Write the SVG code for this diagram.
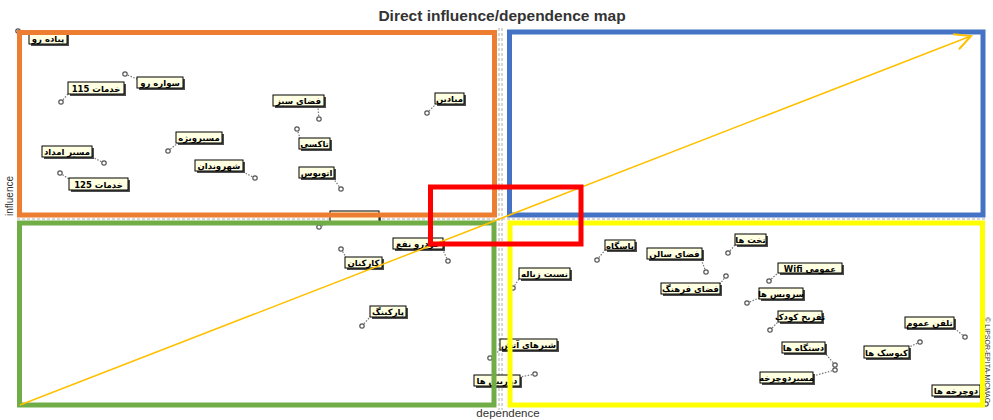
<svg xmlns="http://www.w3.org/2000/svg" width="993" height="420" viewBox="0 0 993 420">
<style>
.bg{fill:#fff}
.sh{fill:#4d4d4d}
.bx{fill:#ffffe1;stroke:#000;stroke-width:1}
.lt{font-family:"DejaVu Sans",sans-serif;font-size:8.5px;font-weight:bold;fill:#000;text-anchor:middle}
.ld{stroke:#777;stroke-width:1.2;stroke-dasharray:1.5 1.5;fill:none}
.pt{fill:#fff;stroke:#555;stroke-width:1.2}
.ax{stroke:#999;stroke-width:0.8;stroke-dasharray:3 2;fill:none}
.q{fill:none;stroke-width:5}
.cap{font-family:"Liberation Sans",Arial,sans-serif;fill:#333}
</style>
<defs>
<marker id="ah" viewBox="0 0 20 20" refX="18" refY="10" markerWidth="20" markerHeight="20" markerUnits="userSpaceOnUse" orient="auto">
<path d="M2,2 L18,10 L2,18" fill="none" stroke="#FFC000" stroke-width="2"/>
</marker>
</defs>
<rect class="bg" x="0" y="0" width="993" height="420"/>
<text class="cap" x="502" y="21" font-size="15.5" font-weight="bold" text-anchor="middle" fill="#222">Direct influence/dependence map</text>
<text class="cap" x="508" y="417" font-size="11.5" text-anchor="middle">dependence</text>
<text class="cap" transform="translate(13,196) rotate(-90)" font-size="10" text-anchor="middle">influence</text>
<text class="cap" transform="translate(985,360) rotate(90)" font-size="7" text-anchor="middle" fill="#666">© LIPSOR-EPITA-MICMAC</text>

<g id="axes">
<line class="ax" x1="499" y1="28" x2="499" y2="410"/>
<line class="ax" x1="502" y1="28" x2="502" y2="410"/>
<line class="ax" x1="17" y1="219" x2="986" y2="219"/>
</g>

<g id="connectors">
<line class="ld" x1="18" y1="31" x2="29" y2="34"/>
<line class="ld" x1="125" y1="74" x2="137" y2="79"/>
<line class="ld" x1="61" y1="102" x2="68" y2="94"/>
<line class="ld" x1="168" y1="151" x2="178" y2="143"/>
<line class="ld" x1="104" y1="163" x2="92" y2="157"/>
<line class="ld" x1="60" y1="173" x2="69" y2="179"/>
<line class="ld" x1="255" y1="178" x2="243" y2="172"/>
<line class="ld" x1="319" y1="119" x2="318" y2="107"/>
<line class="ld" x1="297" y1="129" x2="300" y2="138"/>
<line class="ld" x1="341" y1="189" x2="333" y2="178"/>
<line class="ld" x1="427" y1="113" x2="435" y2="105"/>
<line class="ld" x1="319" y1="227" x2="330" y2="223"/>
<line class="ld" x1="448" y1="261" x2="443" y2="250"/>
<line class="ld" x1="341" y1="249" x2="346" y2="257"/>
<line class="ld" x1="362" y1="326" x2="370" y2="317"/>
<line class="ld" x1="513" y1="288" x2="519" y2="279"/>
<line class="ld" x1="490" y1="358" x2="500" y2="350"/>
<line class="ld" x1="535" y1="374" x2="520" y2="377"/>
<line class="ld" x1="597" y1="260" x2="605" y2="250"/>
<line class="ld" x1="706" y1="272" x2="701" y2="259"/>
<line class="ld" x1="728" y1="253" x2="735" y2="245"/>
<line class="ld" x1="769" y1="281" x2="778" y2="273"/>
<line class="ld" x1="726" y1="276" x2="720" y2="284"/>
<line class="ld" x1="747" y1="303" x2="759" y2="298"/>
<line class="ld" x1="770" y1="330" x2="778" y2="322"/>
<line class="ld" x1="835" y1="365" x2="825" y2="353"/>
<line class="ld" x1="835" y1="370" x2="813" y2="376"/>
<line class="ld" x1="965" y1="337" x2="954" y2="328"/>
<line class="ld" x1="920" y1="342" x2="909" y2="347"/>
<line class="ld" x1="986" y1="404" x2="980" y2="396"/>
</g>

<g id="points">
<circle class="pt" cx="18" cy="31" r="2.2"/>
<circle class="pt" cx="125" cy="74" r="2.2"/>
<circle class="pt" cx="61" cy="102" r="2.2"/>
<circle class="pt" cx="168" cy="151" r="2.2"/>
<circle class="pt" cx="104" cy="163" r="2.2"/>
<circle class="pt" cx="60" cy="173" r="2.2"/>
<circle class="pt" cx="255" cy="178" r="2.2"/>
<circle class="pt" cx="319" cy="119" r="2.2"/>
<circle class="pt" cx="297" cy="129" r="2.2"/>
<circle class="pt" cx="341" cy="189" r="2.2"/>
<circle class="pt" cx="427" cy="113" r="2.2"/>
<circle class="pt" cx="319" cy="227" r="2.2"/>
<circle class="pt" cx="448" cy="261" r="2.2"/>
<circle class="pt" cx="341" cy="249" r="2.2"/>
<circle class="pt" cx="362" cy="326" r="2.2"/>
<circle class="pt" cx="513" cy="288" r="2.2"/>
<circle class="pt" cx="490" cy="358" r="2.2"/>
<circle class="pt" cx="535" cy="374" r="2.2"/>
<circle class="pt" cx="597" cy="260" r="2.2"/>
<circle class="pt" cx="706" cy="272" r="2.2"/>
<circle class="pt" cx="728" cy="253" r="2.2"/>
<circle class="pt" cx="769" cy="281" r="2.2"/>
<circle class="pt" cx="726" cy="276" r="2.2"/>
<circle class="pt" cx="747" cy="303" r="2.2"/>
<circle class="pt" cx="770" cy="330" r="2.2"/>
<circle class="pt" cx="835" cy="365" r="2.2"/>
<circle class="pt" cx="835" cy="370" r="2.2"/>
<circle class="pt" cx="965" cy="337" r="2.2"/>
<circle class="pt" cx="920" cy="342" r="2.2"/>
<circle class="pt" cx="986" cy="404" r="2.2"/>
</g>

<g id="n1"><rect class="sh" x="31" y="35" width="38" height="11"/><rect class="bx" x="29" y="33" width="38" height="11"/><text class="lt" x="48" y="42">پیاده رو</text></g>
<g id="n2"><rect class="sh" x="139" y="79" width="46" height="11"/><rect class="bx" x="137" y="77" width="46" height="11"/><text class="lt" x="160" y="86">سواره رو</text></g>
<g id="n3"><rect class="sh" x="70" y="84" width="56" height="12"/><rect class="bx" x="68" y="82" width="56" height="12"/><text class="lt" x="96" y="91.5">خدمات 115</text></g>
<g id="n4"><rect class="sh" x="178" y="134" width="46" height="11"/><rect class="bx" x="176" y="132" width="46" height="11"/><text class="lt" x="199" y="141">مسیرویژه</text></g>
<g id="n5"><rect class="sh" x="44" y="148" width="50" height="11"/><rect class="bx" x="42" y="146" width="50" height="11"/><text class="lt" x="67" y="155">مسیر امداد</text></g>
<g id="n6"><rect class="sh" x="71" y="180" width="59" height="12"/><rect class="bx" x="69" y="178" width="59" height="12"/><text class="lt" x="98.5" y="187.5">خدمات 125</text></g>
<g id="n7"><rect class="sh" x="197" y="162" width="48" height="11"/><rect class="bx" x="195" y="160" width="48" height="11"/><text class="lt" x="219" y="169">شهروندان</text></g>
<g id="n8"><rect class="sh" x="275" y="97" width="51" height="11"/><rect class="bx" x="273" y="95" width="51" height="11"/><text class="lt" x="298.5" y="104">فضای سبز</text></g>
<g id="n9"><rect class="sh" x="301" y="140" width="31" height="11"/><rect class="bx" x="299" y="138" width="31" height="11"/><text class="lt" x="314.5" y="147">تاکسی</text></g>
<g id="n10"><rect class="sh" x="301" y="169" width="35" height="11"/><rect class="bx" x="299" y="167" width="35" height="11"/><text class="lt" x="316.5" y="176">اتوبوس</text></g>
<g id="n11"><rect class="sh" x="437" y="95" width="29" height="11"/><rect class="bx" x="435" y="93" width="29" height="11"/><text class="lt" x="449.5" y="102">میادین</text></g>
<g id="n12"><rect class="sh" x="332" y="213" width="49" height="11"/><rect class="bx" x="330" y="211" width="49" height="11"/></g>
<g id="n13"><rect class="sh" x="395" y="240" width="50" height="11"/><rect class="bx" x="393" y="238" width="50" height="11"/><text class="lt" x="418" y="247">خودرو نفع</text></g>
<g id="n14"><rect class="sh" x="347" y="259" width="37" height="11"/><rect class="bx" x="345" y="257" width="37" height="11"/><text class="lt" x="363.5" y="266">کارکنان</text></g>
<g id="n15"><rect class="sh" x="372" y="308" width="36" height="11"/><rect class="bx" x="370" y="306" width="36" height="11"/><text class="lt" x="388" y="315">پارکینگ</text></g>
<g id="n16"><rect class="sh" x="521" y="270" width="51" height="11"/><rect class="bx" x="519" y="268" width="51" height="11"/><text class="lt" x="544.5" y="277">نسبت زباله</text></g>
<g id="n17"><rect class="sh" x="502" y="341" width="57" height="11"/><rect class="bx" x="500" y="339" width="57" height="11"/><text class="lt" x="528.5" y="348">شیرهای آتش</text></g>
<g id="n18"><rect class="sh" x="476" y="377" width="46" height="11"/><rect class="bx" x="474" y="375" width="46" height="11"/><text class="lt" x="497" y="384">دوربین ها</text></g>
<g id="n19"><rect class="sh" x="607" y="242" width="30" height="10"/><rect class="bx" x="605" y="240" width="30" height="10"/><text class="lt" x="620" y="248.5">پاسگاه</text></g>
<g id="n20"><rect class="sh" x="649" y="250" width="55" height="11"/><rect class="bx" x="647" y="248" width="55" height="11"/><text class="lt" x="674.5" y="257">فضای سالن</text></g>
<g id="n21"><rect class="sh" x="737" y="236" width="31" height="11"/><rect class="bx" x="735" y="234" width="31" height="11"/><text class="lt" x="750.5" y="243">تخت ها</text></g>
<g id="n22"><rect class="sh" x="780" y="265" width="64" height="10"/><rect class="bx" x="778" y="263" width="64" height="10"/><text class="lt" x="810" y="271.5">Wifi عمومی</text></g>
<g id="n23"><rect class="sh" x="663" y="285" width="59" height="11"/><rect class="bx" x="661" y="283" width="59" height="11"/><text class="lt" x="690.5" y="292">فضای فرهنگ</text></g>
<g id="n24"><rect class="sh" x="761" y="290" width="44" height="11"/><rect class="bx" x="759" y="288" width="44" height="11"/><text class="lt" x="781" y="297">سرویس ها</text></g>
<g id="n25"><rect class="sh" x="780" y="313" width="44" height="11"/><rect class="bx" x="778" y="311" width="44" height="11"/><text class="lt" x="800" y="320">تفریح کودک</text></g>
<g id="n26"><rect class="sh" x="784" y="344" width="43" height="11"/><rect class="bx" x="782" y="342" width="43" height="11"/><text class="lt" x="803.5" y="351">دستگاه ها</text></g>
<g id="n27"><rect class="sh" x="762" y="374" width="53" height="11"/><rect class="bx" x="760" y="372" width="53" height="11"/><text class="lt" x="786.5" y="381">مسیردوچرخه</text></g>
<g id="n28"><rect class="sh" x="907" y="319" width="49" height="11"/><rect class="bx" x="905" y="317" width="49" height="11"/><text class="lt" x="929.5" y="326">تلفن عموم</text></g>
<g id="n29"><rect class="sh" x="866" y="348" width="45" height="12"/><rect class="bx" x="864" y="346" width="45" height="12"/><text class="lt" x="886.5" y="355.5">کیوسک ها</text></g>
<g id="n30"><rect class="sh" x="934" y="387" width="48" height="11"/><rect class="bx" x="932" y="385" width="48" height="11"/><text class="lt" x="956" y="394">دوچرخه ها</text></g>

<g id="quadrants">
<rect class="q" x="19.5" y="32.5" width="475" height="182.5" stroke="#ED7D31"/>
<rect class="q" x="509.5" y="32" width="473.5" height="183" stroke="#4472C4"/>
<rect class="q" x="19.5" y="223" width="474.5" height="182" stroke="#70AD47"/>
<rect class="q" x="510" y="223" width="472.5" height="182" stroke="#FFFF00"/>
</g>

<g id="trend">
<line x1="20" y1="405" x2="971" y2="36" stroke="#FFC000" stroke-width="1.5" marker-end="url(#ah)"/>
</g>

<g id="highlight">
<rect class="q" x="430.5" y="187" width="150.5" height="57" stroke="#FF0000"/>
</g>
</svg>
